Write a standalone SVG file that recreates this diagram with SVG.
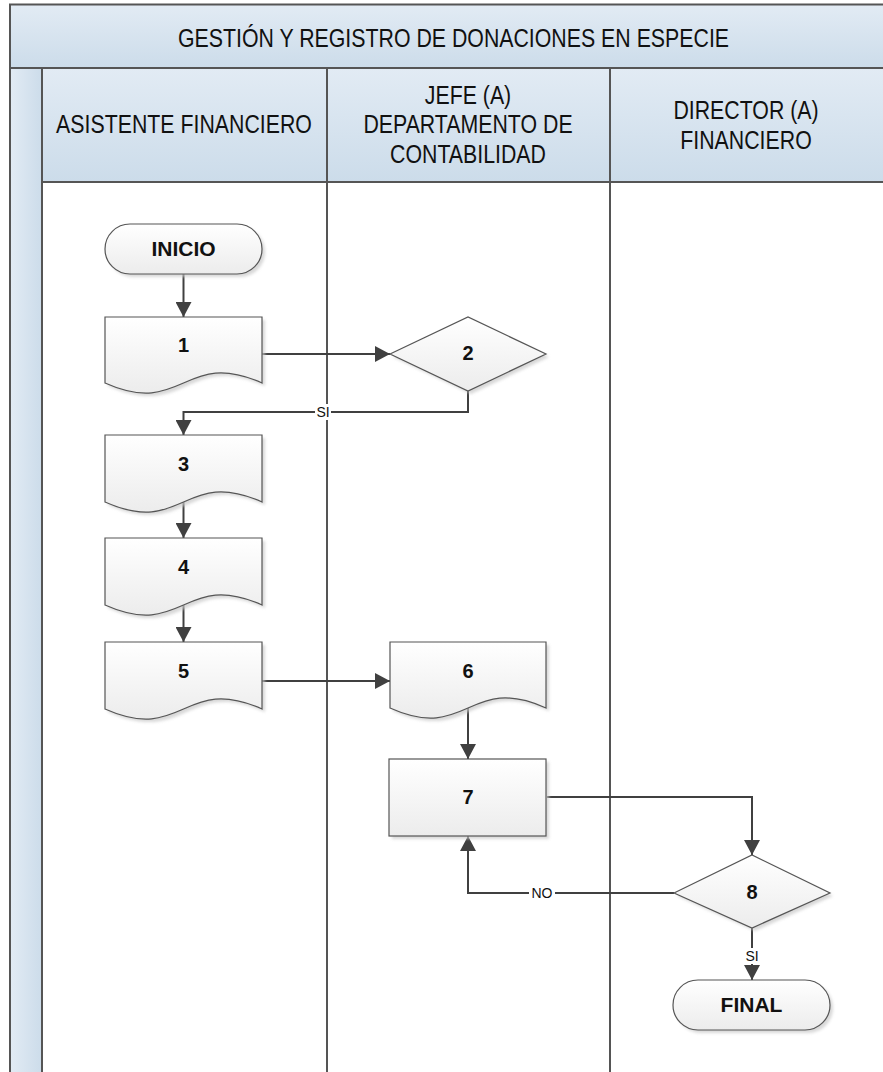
<svg xmlns="http://www.w3.org/2000/svg" width="883" height="1072" viewBox="0 0 883 1072">
<defs>
  <linearGradient id="hdr" x1="0" y1="0" x2="0" y2="1">
    <stop offset="0" stop-color="#e2ebf4"/>
    <stop offset="1" stop-color="#ccdcea"/>
  </linearGradient>
  <linearGradient id="strip" x1="0" y1="0" x2="1" y2="0">
    <stop offset="0" stop-color="#e2ebf4"/>
    <stop offset="1" stop-color="#ccdcea"/>
  </linearGradient>
  <linearGradient id="shape" x1="0" y1="0" x2="0" y2="1">
    <stop offset="0" stop-color="#ffffff"/>
    <stop offset="1" stop-color="#ececec"/>
  </linearGradient>
  <marker id="arr" markerUnits="userSpaceOnUse" markerWidth="16" markerHeight="16" refX="15" refY="8" orient="auto">
    <path d="M0,0 L15,8 L0,16 Z" fill="#404040"/>
  </marker>
  <filter id="sh" x="-10%" y="-10%" width="130%" height="140%">
    <feGaussianBlur stdDeviation="1.5"/>
  </filter>
</defs>
<style>
  .frame { stroke: #555; stroke-width: 2; fill: none; }
  .hdrtxt { font-family: "Liberation Sans", Arial, sans-serif; font-size: 26px; fill: #111; text-anchor: middle; }
  .node { fill: url(#shape); stroke: #555; stroke-width: 1.2; }
  .shadow { fill: #c8c8c8; opacity: 0.7; filter: url(#sh); }
  .lbl { font-family: "Liberation Sans", Arial, sans-serif; font-weight: bold; font-size: 20px; fill: #111; text-anchor: middle; }
  .term { font-size: 21px; }
  .conn { stroke: #404040; stroke-width: 2; fill: none; }
  .conn-arrow { marker-end: url(#arr); }
  .clbl { font-family: "Liberation Sans", Arial, sans-serif; font-size: 14px; fill: #111; text-anchor: middle; }
</style>

<g id="swimlane">
  <rect x="10" y="4.5" width="880" height="63.5" fill="url(#hdr)"/>
  <rect x="42" y="68" width="848" height="114" fill="url(#hdr)"/>
  <rect x="10" y="68" width="32" height="1010" fill="url(#strip)"/>
  <path class="frame" d="M10,1072 V4.5 H890"/>
  <path class="frame" d="M10,68 H890"/>
  <path class="frame" d="M42,68 V1072"/>
  <path class="frame" d="M42,182 H890"/>
  <path class="frame" d="M327,68 V1072"/>
  <path class="frame" d="M610,68 V1072"/>
  <text class="hdrtxt" transform="translate(453.5,47) scale(0.82,1)">GESTIÓN Y REGISTRO DE DONACIONES EN ESPECIE</text>
  <text class="hdrtxt" transform="translate(184,133) scale(0.82,1)">ASISTENTE FINANCIERO</text>
  <text class="hdrtxt" transform="translate(468,104) scale(0.82,1)">JEFE (A)</text>
  <text class="hdrtxt" transform="translate(468,133) scale(0.82,1)">DEPARTAMENTO DE</text>
  <text class="hdrtxt" transform="translate(468,163) scale(0.82,1)">CONTABILIDAD</text>
  <text class="hdrtxt" transform="translate(746,119) scale(0.82,1)">DIRECTOR (A)</text>
  <text class="hdrtxt" transform="translate(746,149) scale(0.82,1)">FINANCIERO</text>
</g>

<g id="connectors">
  <path class="conn conn-arrow" d="M183.5,274 V317"/>
  <path class="conn conn-arrow" d="M262,354 H390"/>
  <path class="conn conn-arrow" d="M468,391 V412 H183.5 V435"/>
  <path class="conn conn-arrow" d="M183.5,502 V538"/>
  <path class="conn conn-arrow" d="M183.5,605 V642"/>
  <path class="conn conn-arrow" d="M262,681 H390"/>
  <path class="conn conn-arrow" d="M468,708 V759"/>
  <path class="conn conn-arrow" d="M547,797 H752 V855"/>
  <path class="conn conn-arrow" d="M674,893 H468 V836"/>
  <path class="conn conn-arrow" d="M752,928 V980"/>
  <rect x="315" y="404" width="16" height="16" fill="#fff"/>
  <text class="clbl" x="323" y="417">SI</text>
  <rect x="529" y="885" width="26" height="16" fill="#fff"/>
  <text class="clbl" x="542" y="898">NO</text>
  <rect x="744" y="948" width="16" height="16" fill="#fff"/>
  <text class="clbl" x="752" y="961">SI</text>
</g>

<g id="n-inicio">
  <rect class="shadow" x="108" y="227" width="157" height="50" rx="25"/>
  <rect class="node" x="105" y="224" width="157" height="50" rx="25"/>
  <text class="lbl term" x="183.5" y="256">INICIO</text>
</g>
<g id="n1">
  <path class="shadow" transform="translate(3,3)" d="M105,317 H262 V383 C183.5,348 183.5,418 105,383 Z"/>
  <path class="node" d="M105,317 H262 V383 C183.5,348 183.5,418 105,383 Z"/>
  <text class="lbl" x="183.5" y="352">1</text>
</g>
<g id="n2">
  <path class="shadow" transform="translate(3,3)" d="M390,354 L468,317 L546,354 L468,391 Z"/>
  <path class="node" d="M390,354 L468,317 L546,354 L468,391 Z"/>
  <text class="lbl" x="468" y="360">2</text>
</g>
<g id="n3">
  <path class="shadow" transform="translate(3,3)" d="M105,435 H262 V502 C183.5,467 183.5,537 105,502 Z"/>
  <path class="node" d="M105,435 H262 V502 C183.5,467 183.5,537 105,502 Z"/>
  <text class="lbl" x="183.5" y="471">3</text>
</g>
<g id="n4">
  <path class="shadow" transform="translate(3,3)" d="M105,538 H262 V605 C183.5,570 183.5,640 105,605 Z"/>
  <path class="node" d="M105,538 H262 V605 C183.5,570 183.5,640 105,605 Z"/>
  <text class="lbl" x="183.5" y="574">4</text>
</g>
<g id="n5">
  <path class="shadow" transform="translate(3,3)" d="M105,642 H262 V709 C183.5,674 183.5,744 105,709 Z"/>
  <path class="node" d="M105,642 H262 V709 C183.5,674 183.5,744 105,709 Z"/>
  <text class="lbl" x="183.5" y="678">5</text>
</g>
<g id="n6">
  <path class="shadow" transform="translate(3,3)" d="M390,642 H546 V708 C468,673 468,743 390,708 Z"/>
  <path class="node" d="M390,642 H546 V708 C468,673 468,743 390,708 Z"/>
  <text class="lbl" x="468" y="678">6</text>
</g>
<g id="n7">
  <rect class="shadow" x="392" y="762" width="157" height="77"/>
  <rect class="node" x="389" y="759" width="157" height="77"/>
  <text class="lbl" x="468" y="804">7</text>
</g>
<g id="n8">
  <path class="shadow" transform="translate(3,3)" d="M674,893 L752,855 L830,893 L752,928 Z"/>
  <path class="node" d="M674,893 L752,855 L830,893 L752,928 Z"/>
  <text class="lbl" x="752" y="899">8</text>
</g>
<g id="n-final">
  <rect class="shadow" x="676" y="983" width="157" height="50" rx="25"/>
  <rect class="node" x="673" y="980" width="157" height="50" rx="25"/>
  <text class="lbl term" x="751.5" y="1012">FINAL</text>
</g>
</svg>
